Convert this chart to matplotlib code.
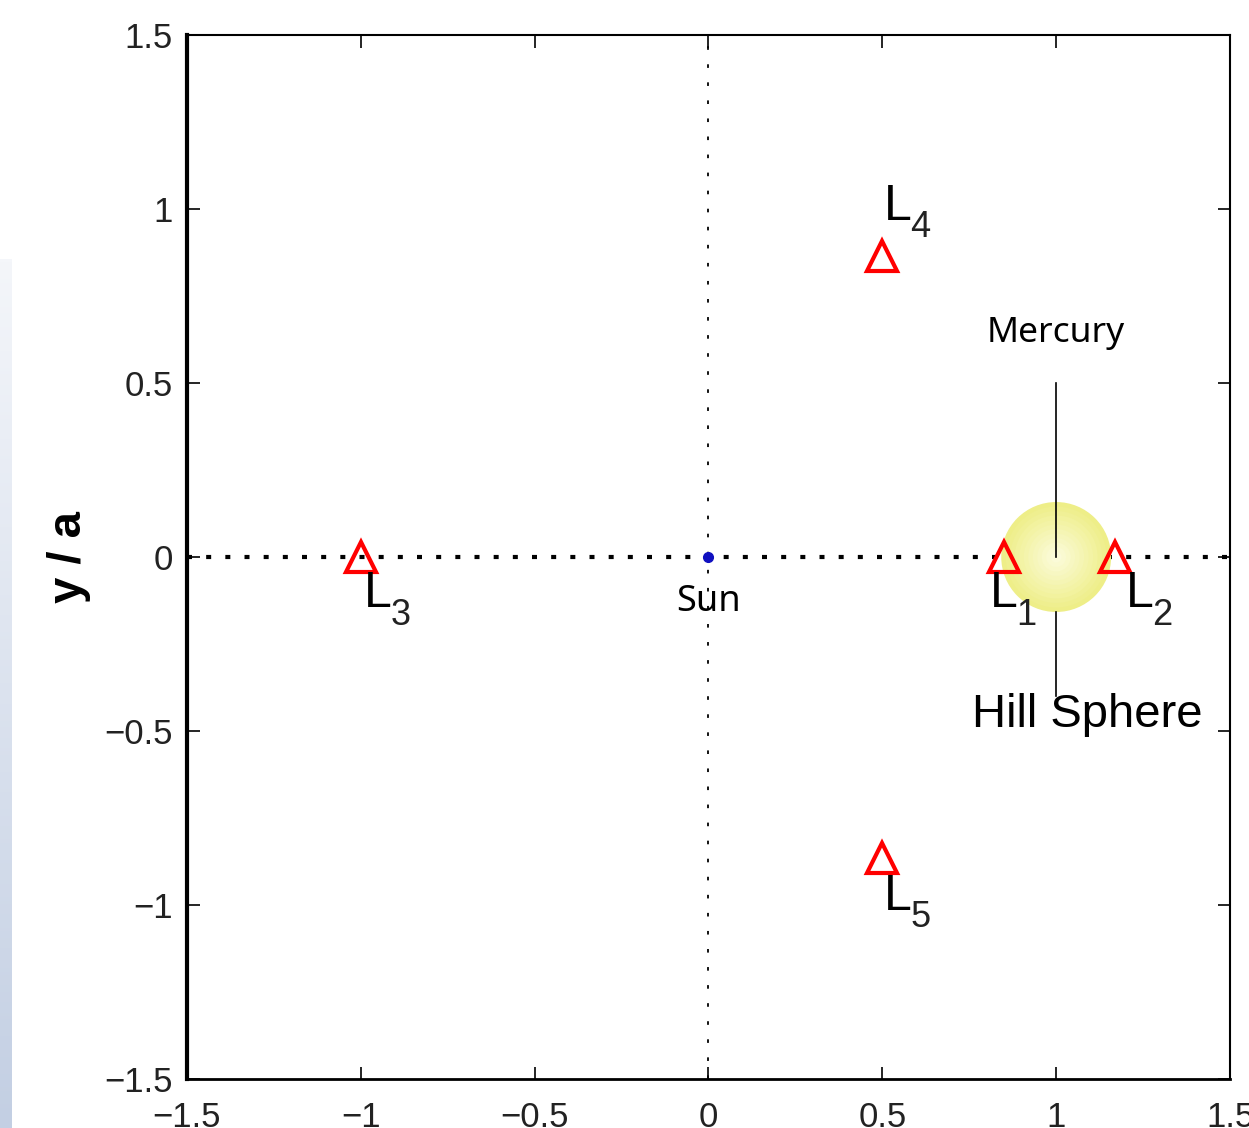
import numpy as np
import matplotlib.pyplot as plt
from matplotlib.patches import Circle

plt.rcParams['font.family'] = ['Liberation Sans', 'DejaVu Sans']

# Lagrange points in units of the orbit radius a
lagrange_names = ['1', '2', '3', '4', '5']
lagrange_x = [0.85, 1.17, -1.0, 0.5, 0.5]
lagrange_y = [0.0, 0.0, 0.0, 0.866, -0.866]
# label anchors (left, baseline) for each L
label_x = [0.81, 1.20, -0.99, 0.505, 0.505]
label_y = [-0.145, -0.145, -0.145, 0.968, -1.014]

sun_pos = (0.0, 0.0)
planet_pos = (1.0, 0.0)
hill_radius = 0.158
ticks = [-1.5, -1, -0.5, 0, 0.5, 1, 1.5]
tick_labels = ['\u22121.5', '\u22121', '\u22120.5', '0', '0.5', '1', '1.5']

fig = plt.figure(figsize=(12.49, 11.28), dpi=100)

# pale blue strip down the left edge
strip = fig.add_axes([0, 0, 0.0096, 0.77])
grad = np.linspace(0, 1, 256).reshape(-1, 1)
strip.imshow(grad, aspect='auto', origin='lower',
             cmap=plt.matplotlib.colors.LinearSegmentedColormap.from_list(
                 'strip', ['#c3cfe3', '#f4f6fa']))
strip.axis('off')

ax = fig.add_axes([0.1497, 0.0434, 0.8351, 0.9256])
ax.set_xlim(-1.5, 1.5)
ax.set_ylim(-1.5, 1.5)

# orbit axes through the sun
ax.axhline(0, color='black', lw=3, linestyle=(0, (1.2, 3.4)), zorder=1)
ax.axvline(0, color='black', lw=1.3, linestyle=(0, (2, 8)), zorder=1)

# Hill sphere, light in the middle fading to yellow at the rim
for k, c in zip(np.linspace(1, 0.1, 12),
                plt.matplotlib.colors.LinearSegmentedColormap.from_list(
                    'hill', ['#eeee88', '#fbfbd8'])(np.linspace(0, 1, 12))):
    ax.add_patch(Circle(planet_pos, hill_radius * k, color=c, lw=0, zorder=2))

# leader lines for the planet and the Hill sphere
ax.plot([planet_pos[0], planet_pos[0]], [0.5, 0.0], color='black', lw=1.2, zorder=3)
ax.plot([planet_pos[0], planet_pos[0]], [-hill_radius, -0.40], color='black', lw=1.2, zorder=3)

ax.plot(lagrange_x, lagrange_y, linestyle='none', marker='^', markersize=22,
        mfc='none', mec='red', mew=3, zorder=4)
ax.plot(*sun_pos, marker='o', markersize=7, color='#1010c0', zorder=4)

# "L" with a hand-placed subscript number
for n, tx, ty in zip(lagrange_names, label_x, label_y):
    ax.text(tx, ty, 'L', fontsize=36, ha='left', va='baseline', zorder=5)
    ax.annotate(n, (tx, ty), xytext=(19, -12.5), textcoords='offset points',
                fontsize=26, color='#222222', ha='left', va='baseline', zorder=5)

ax.text(0.0, -0.13, 'Sun', fontsize=26, family='Noto Sans', ha='center',
        va='center', zorder=5)
ax.text(1.0, 0.645, 'Mercury', fontsize=25.5, family='Noto Sans', ha='center',
        va='center', zorder=5)
ax.text(1.09, -0.455, 'Hill Sphere', fontsize=34, ha='center', va='center',
        zorder=5)

ax.set_xticks(ticks)
ax.set_xticklabels(tick_labels)
ax.set_yticks(ticks)
ax.set_yticklabels(tick_labels)
ax.tick_params(direction='in', length=9, width=1.2, top=True, right=True,
               labelsize=25, pad=10)
ax.tick_params(axis='x', pad=16)
for lbl in ax.get_xticklabels() + ax.get_yticklabels():
    lbl.set_color('#222222')

ax.spines['left'].set_linewidth(3)
ax.spines['bottom'].set_linewidth(2)
ax.spines['top'].set_linewidth(1.5)
ax.spines['right'].set_linewidth(1.5)

ax.set_ylabel('y / a', fontsize=34, fontweight='bold', labelpad=10)

fig.savefig('out.png', dpi=100)
